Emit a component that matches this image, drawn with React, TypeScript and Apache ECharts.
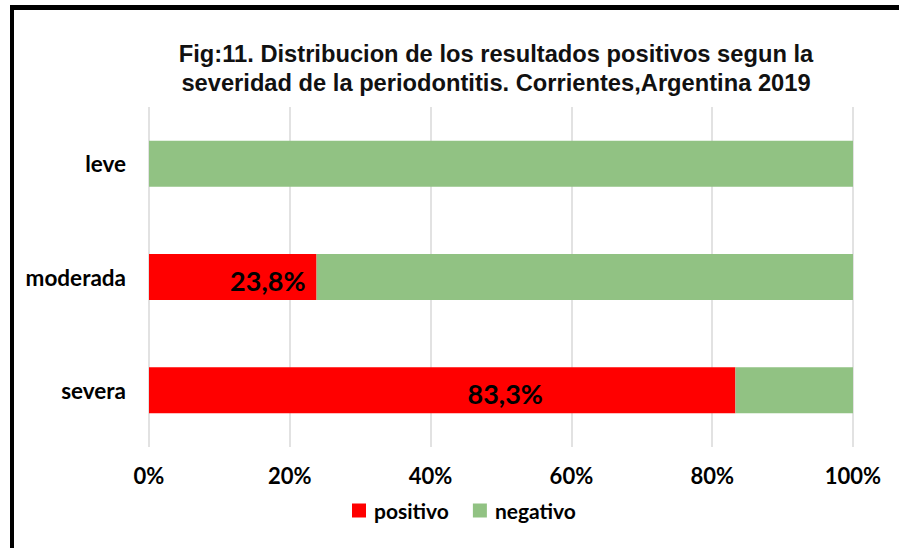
import React, { useEffect, useRef } from "react";
import * as echarts from "echarts";

const categories = ["severa", "moderada", "leve"];
const positivo = [83.3, 23.8, 0];
const negativo = [16.7, 76.2, 100];
const xTicks = [0, 20, 40, 60, 80, 100];
const titleLines = [
  "Fig:11. Distribucion de los resultados positivos segun la",
  "severidad de la periodontitis. Corrientes,Argentina 2019",
];
const labelTexts = ["83,3%", "23,8%", ""];

export default function App() {
  const ref = useRef<HTMLDivElement>(null);
  useEffect(() => {
    if (!ref.current) return;
    const chart = echarts.init(ref.current, null, { renderer: "svg" });
    const axisFont = { fontFamily: "Lato", fontWeight: "bold" as const, fontSize: 22, color: "#000" };
    chart.setOption({
      animation: false,
      backgroundColor: "#fff",
      title: {
        text: titleLines.join("\n"),
        left: 491,
        top: 34,
        textAlign: "center",
        textStyle: {
          fontFamily: "Liberation Sans",
          fontWeight: "bold",
          fontSize: 23.7,
          lineHeight: 29,
          color: "#111",
        },
      },
      legend: {
        bottom: 27,
        left: 352,
        padding: 0,
        itemWidth: 14,
        itemHeight: 14,
        itemGap: 24,
        icon: "rect",
        textStyle: { ...axisFont, fontSize: 21, padding: [0, 0, 0, 3] },
        data: ["positivo", "negativo"],
      },
      grid: { left: 149, right: 46, top: 107, bottom: 101, containLabel: false },
      xAxis: {
        type: "value",
        min: 0,
        max: 100,
        interval: 20,
        axisLine: { show: false },
        axisTick: { show: false },
        splitLine: { show: true, lineStyle: { color: "#d9d9d9", width: 1.5 } },
        axisLabel: {
          ...axisFont,
          margin: 17,
          formatter: (v: number) => (xTicks.includes(v) ? `${v}%` : ""),
        },
      },
      yAxis: {
        type: "category",
        data: categories,
        axisLine: { show: false },
        axisTick: { show: false },
        axisLabel: { ...axisFont, fontSize: 22.5, margin: 23 },
      },
      series: [
        {
          name: "positivo",
          type: "bar",
          stack: "total",
          barWidth: 46,
          itemStyle: { color: "#ff0000" },
          data: positivo.map((v, i) => ({
            value: v,
            label: {
              show: labelTexts[i] !== "",
              position: i === 0 ? "inside" : "insideRight",
              offset: i === 0 ? [63, 3] : [-6, 3],
              formatter: () => labelTexts[i],
              fontFamily: "Lato",
              fontWeight: "bold",
              fontSize: 27,
              color: "#000",
            },
          })),
        },
        {
          name: "negativo",
          type: "bar",
          stack: "total",
          barWidth: 46,
          itemStyle: { color: "#91c283" },
          data: negativo,
        },
      ],
      graphic: [
        { type: "rect", shape: { x: 10, y: 5, width: 889, height: 5 }, style: { fill: "#000" } },
        { type: "rect", shape: { x: 10, y: 5, width: 4, height: 543 }, style: { fill: "#000" } },
      ],
    });
    return () => chart.dispose();
  }, []);
  return (
    <div
      ref={ref}
      style={{ position: "fixed", left: 0, top: 0, width: 899, height: 548 }}
    />
  );
}
